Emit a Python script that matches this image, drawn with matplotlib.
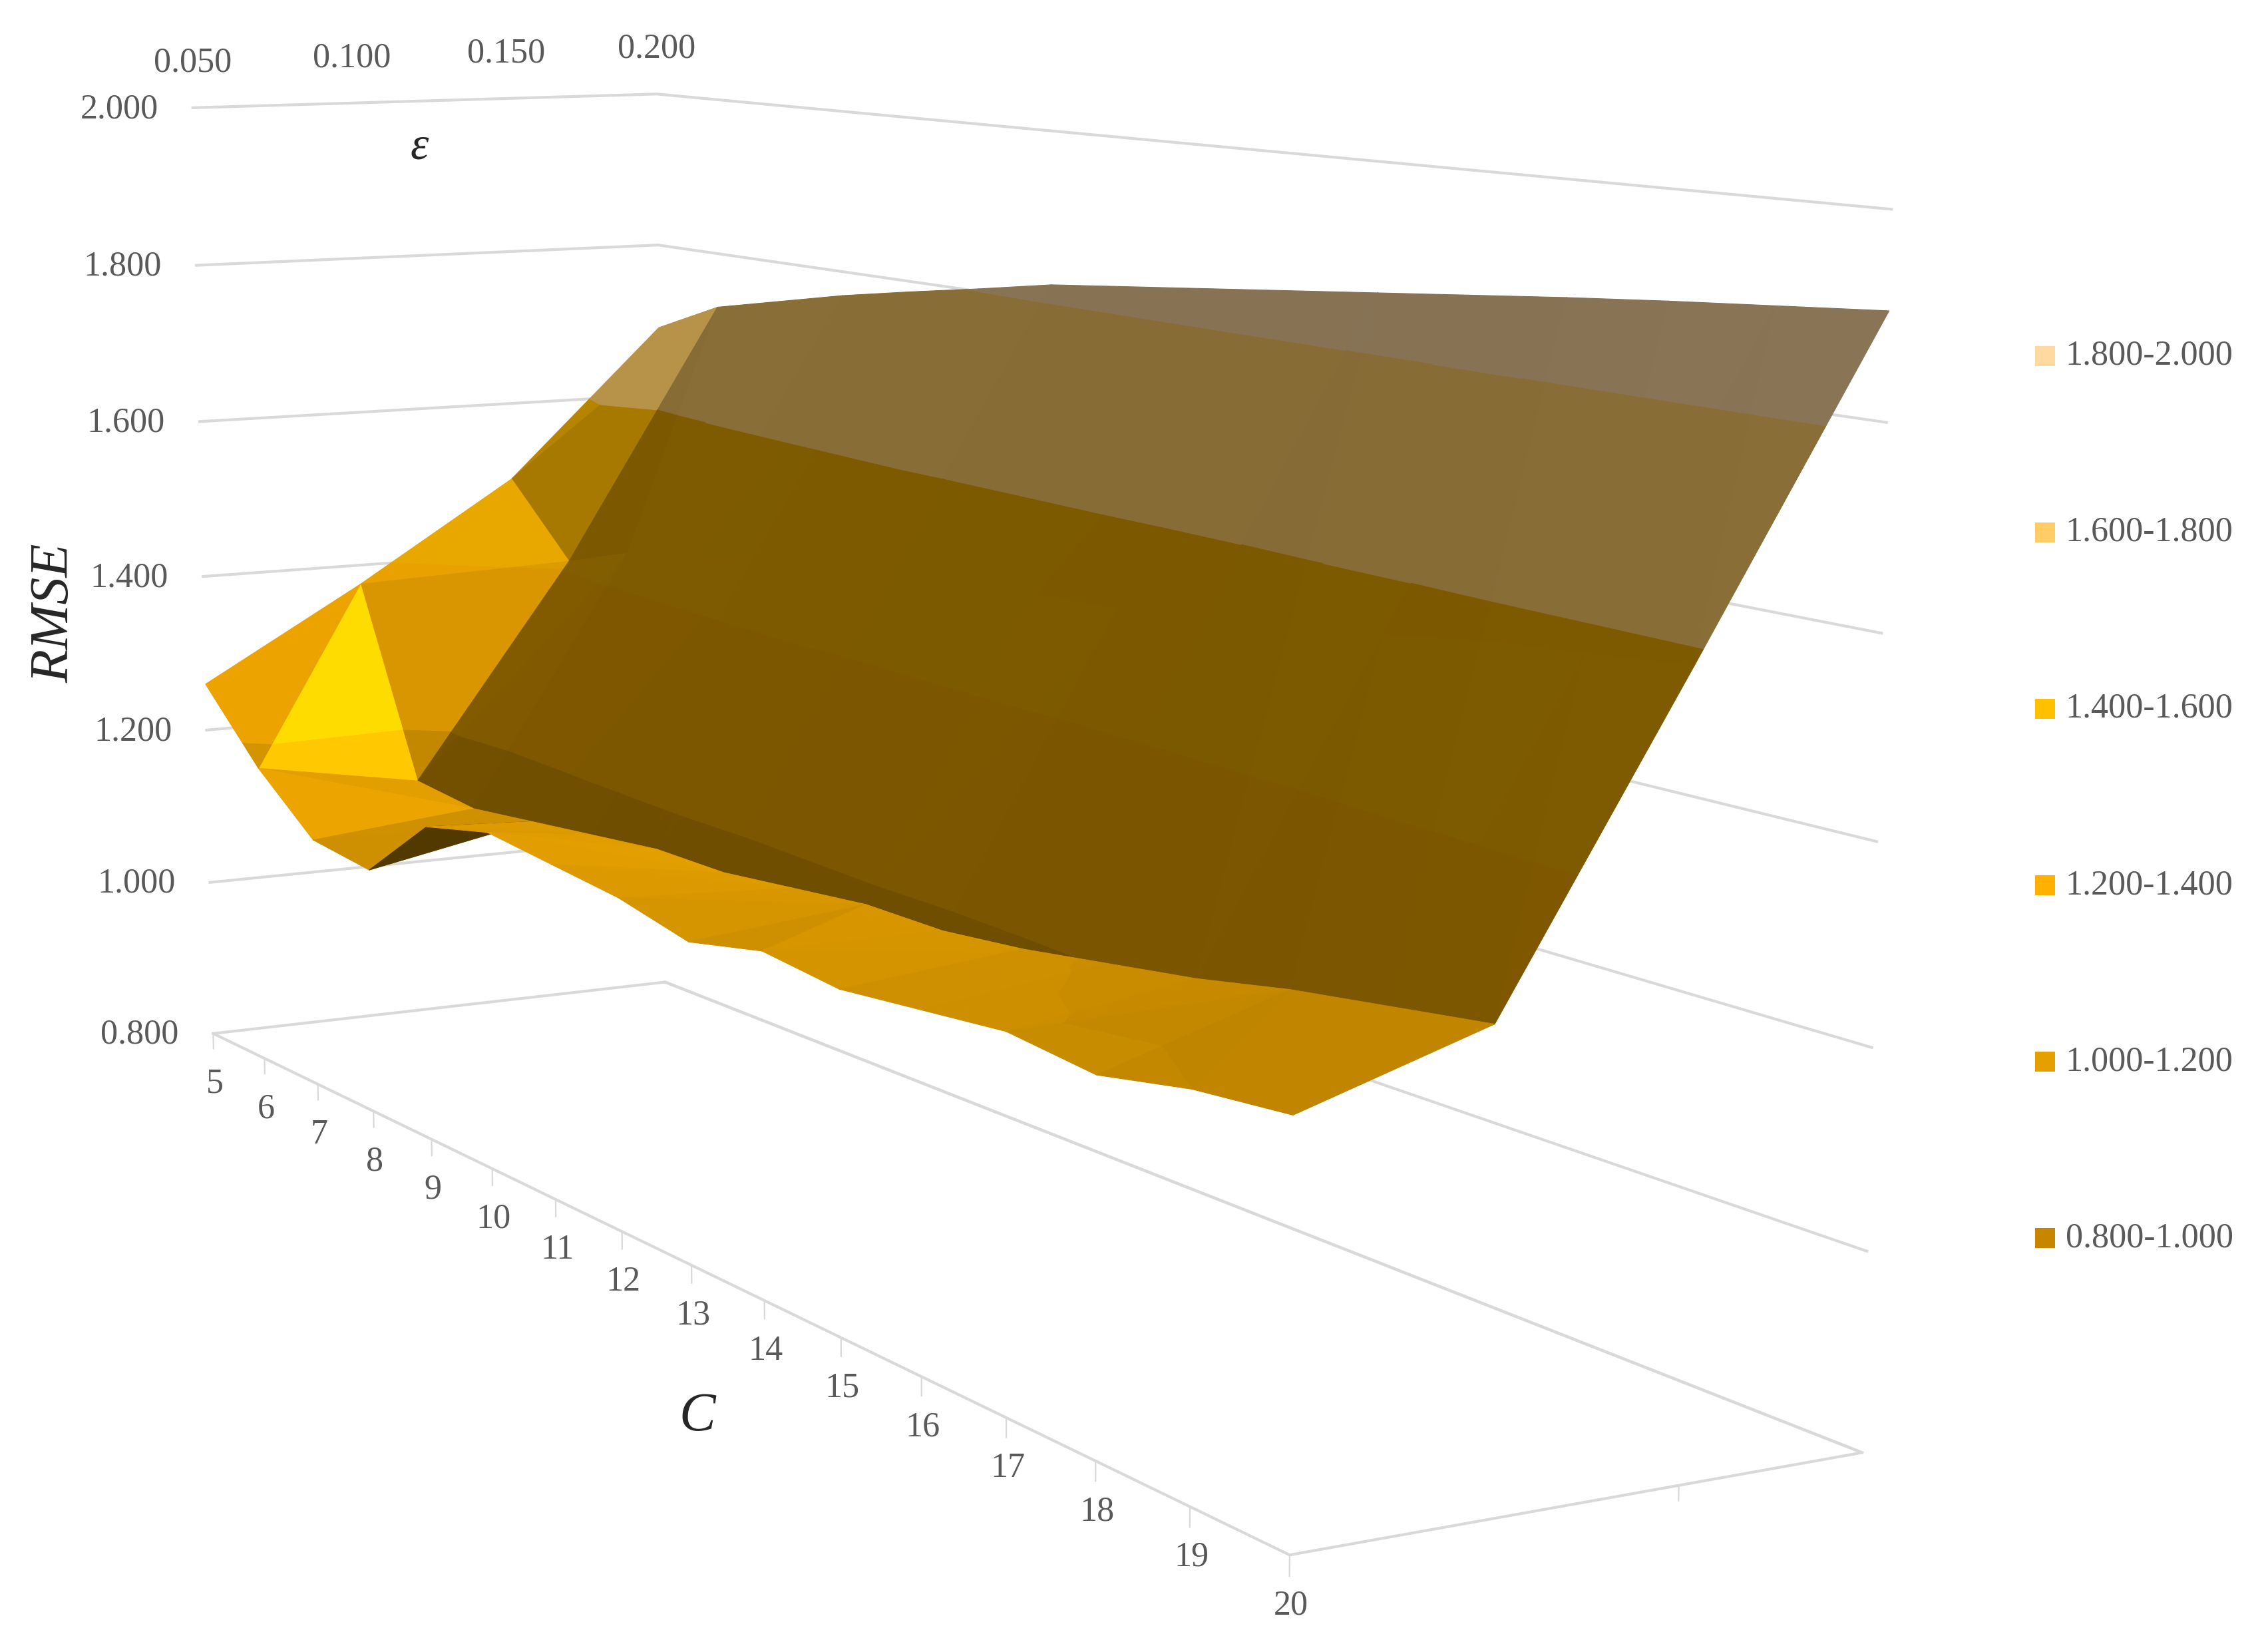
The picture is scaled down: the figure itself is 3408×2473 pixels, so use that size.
import numpy as np, matplotlib
matplotlib.use('Agg')
import matplotlib.pyplot as plt
from matplotlib.patches import Rectangle
from mpl_toolkits.mplot3d import proj3d
from mpl_toolkits.mplot3d.art3d import Poly3DCollection

C_VALUES = list(range(5, 21))
EPS_VALUES = [0.05, 0.10, 0.15, 0.20]
RMSE_EPS_005 = [1.26, 1.175, 1.11, 1.10, 1.18, 1.20, 1.19, 1.18, 1.16, 1.18, 1.17, 1.18, 1.19, 1.18, 1.20, 1.21]
RMSE_EPS_010 = [1.375, 1.14, 1.13, 1.14, 1.15, 1.16, 1.16, 1.17, 1.18, 1.18, 1.19, 1.205, 1.22, 1.24, 1.255, 1.27]
RMSE_EPS_015 = [1.50, 1.41, 1.44, 1.455, 1.47, 1.485, 1.49, 1.50, 1.51, 1.515, 1.525, 1.54, 1.55, 1.565, 1.575, 1.585]
RMSE_EPS_020 = [1.69, 1.73, 1.75, 1.77, 1.787, 1.803, 1.82, 1.83, 1.84, 1.85, 1.86, 1.87, 1.88, 1.889, 1.897, 1.905]
Z_TICKS = [0.8, 1.0, 1.2, 1.4, 1.6, 1.8, 2.0]
BAND_EDGES = [0.8, 1.0, 1.2, 1.4, 1.6, 1.8, 2.0]
LEGEND_COLORS = ['#C88600', '#E5A000', '#FFB000', '#FFC000', '#FFCC66', '#FFD99F']
SURFACE_COLORS = ['#C88600', '#E5A000', '#FFB000', '#FFB800', '#FFCC66', '#FFD99F']
LEGEND_LABELS = ['0.800-1.000', '1.000-1.200', '1.200-1.400', '1.400-1.600', '1.600-1.800', '1.800-2.000']

W, H = 3408, 2473
k = W / 1568
ELEV, AZIM, ROLL, FOCAL = 8.8007, -29.1678, 0.1554, np.exp(-0.8791)
BOX = (np.exp(0.7622), np.exp(-0.6012), 1.0)
A0, B0, KV = 1374.144, 1035.3548, np.exp(9.9306)

FONT = 'Liberation Serif'
TICK_C = '#595959'
GRID_C = '#D9D9D9'
FS = 37.5

fig = plt.figure(figsize=(W / 100, H / 100), dpi=100)
wp = KV * 0.185
ax = fig.add_axes([(A0 - 0.095 * KV) / W, (H - B0 - 0.095 * KV) / H, wp / W, wp / H], projection='3d')
ax.set_xlim(5, 20, view_margin=0)
ax.set_ylim(0.05, 0.2, view_margin=0)
ax.set_zlim(0.8, 2.0, view_margin=0)
ax.view_init(elev=ELEV, azim=AZIM, roll=ROLL)
ax.set_proj_type('persp', focal_length=FOCAL)
ax.set_box_aspect(BOX)
ax.set_axis_off()
ax.patch.set_visible(False)
ax.computed_zorder = False
M = ax.get_proj()

# walls and floor
for z in Z_TICKS:
    ax.plot([5, 5, 20], [0.05, 0.2, 0.2], [z, z, z], color=GRID_C, lw=3.0, zorder=1)
ax.plot([5, 20, 20, 5], [0.05, 0.05, 0.2, 0.2], [0.8] * 4, color=GRID_C, lw=3.0, zorder=1)
for c in C_VALUES:
    ax.plot([c, c], [0.05, 0.05], [0.8, 0.78], color=GRID_C, lw=1.6, zorder=1)
ax.plot([20, 20], [0.15, 0.15], [0.8, 0.785], color=GRID_C, lw=1.6, zorder=1)

# surface
Z = np.array([RMSE_EPS_005, RMSE_EPS_010, RMSE_EPS_015, RMSE_EPS_020]).T
def clip(poly, val, keep_above):
    out = []
    n = len(poly)
    for a in range(n):
        p, q = poly[a], poly[(a + 1) % n]
        pin = p[2] >= val if keep_above else p[2] <= val
        qin = q[2] >= val if keep_above else q[2] <= val
        if pin:
            out.append(p)
        if pin != qin:
            t = (val - p[2]) / (q[2] - p[2])
            out.append(tuple(p[m] + t * (q[m] - p[m]) for m in range(3)))
    return out

def gradients(tri_idx):
    P = np.array([(i, j, Z[i, j]) for i, j in tri_idx], float)
    n = np.cross(P[1] - P[0], P[2] - P[0])
    return -n[0] / n[2], -n[1] / n[2]

def shade(dzC, dzE):
    if dzC > -0.05 and dzE > 0.25:
        return 0.5 - 0.5 * (dzE - 0.31) - 0.3 * dzC
    return float(np.clip(1 - 0.88 * dzC - 1.31 * dzE, 0.3, 1.3))

def backfacing(pts):
    x, y, _ = proj3d.proj_transform(*np.array(pts).T, M)
    return (x[1] - x[0]) * (y[2] - y[0]) - (x[2] - x[0]) * (y[1] - y[0]) < 0

polys, cols = [], []
for i in range(len(C_VALUES) - 1):
    for j in range(len(EPS_VALUES) - 1):
        a, b, c, d = (i, j), (i + 1, j), (i + 1, j + 1), (i, j + 1)
        if Z[a] + Z[c] >= Z[b] + Z[d]:
            tris = [(a, b, c), (a, c, d)]
        else:
            tris = [(a, b, d), (b, c, d)]
        for tri in tris:
            pts = [(C_VALUES[u], EPS_VALUES[v], Z[u, v]) for u, v in tri]
            dzC, dzE = gradients(tri)
            f = 0.38 if backfacing(pts) else shade(dzC, dzE)
            gentle = dzC > -0.03 and dzE < 0.15
            if gentle:
                f *= 0.94
            for b_i, col in enumerate(SURFACE_COLORS):
                poly = clip(pts, BAND_EDGES[b_i], True)
                if poly:
                    poly = clip(poly, BAND_EDGES[b_i + 1], False)
                if len(poly) >= 3:
                    polys.append(poly)
                    g = f
                    if gentle and b_i == 2:
                        g = f * 0.88
                    if b_i >= 4 and dzE > 0.25:
                        g = f * 1.09
                    cols.append(np.clip(np.array(matplotlib.colors.to_rgb(col)) * g, 0, 1))
coll = Poly3DCollection(polys, facecolors=cols, edgecolors=cols, linewidths=0.8, zsort='average', zorder=3)
ax.add_collection3d(coll, autolim=False)

def label(s, xyz, dx, dy, **kw):
    x, y, _ = proj3d.proj_transform(*xyz, M)
    ax.annotate(s, (x, y), xytext=(dx * k, -dy * k), textcoords='offset pixels', ha='center', va='center',
                family=FONT, annotation_clip=False, **{'color': TICK_C, 'fontsize': FS, **kw})

for z in Z_TICKS:
    label(f'{z:.3f}', (5, 0.05, z), -51, 1)
for e in EPS_VALUES:
    label(f'{e:.3f}', (5, e, 2.0), 0, -31)
for c in C_VALUES:
    label(str(c), (c, 0.05, 0.8), 1, 35)

tk = dict(family=FONT, style='italic', color='#262626', ha='center', va='center')
fig.text(38 / 1568, 1 - 424 / 1138, 'RMSE', rotation=90, fontsize=59, **tk)
fig.text(290 / 1568, 1 - 102 / 1138, 'ε', fontsize=50, **tk)
fig.text(482 / 1568, 1 - 980 / 1138, 'C', fontsize=59, **tk)

# legend
for n, (lab, col) in enumerate(zip(LEGEND_LABELS, LEGEND_COLORS)):
    yc = (856 - n * 122) * k
    fig.add_artist(Rectangle((1407 * k / W, 1 - (yc + 15) / H), 30 / W, 30 / H, transform=fig.transFigure, color=col, lw=0))
    fig.text(1428 * k / W, 1 - yc / H, lab, family=FONT, fontsize=FS, color=TICK_C, ha='left', va='center')

fig.savefig('out.png', dpi=100)
